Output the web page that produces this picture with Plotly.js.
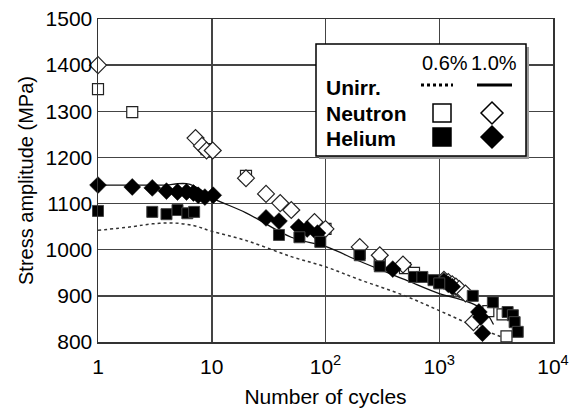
<!DOCTYPE html>
<html><head><meta charset="utf-8">
<script src="https://cdn.plot.ly/plotly-3.0.1.min.js"></script>
<style>html,body{margin:0;padding:0;background:#fff}#chart{width:571px;height:410px}</style>
</head><body><div id="chart"></div>
<script>
// Unirradiated 0.6% (dotted) and 1.0% (solid)
const unirr06N = [1, 2, 3, 4.5, 7, 10, 20, 50, 100, 200, 500, 1000, 2000, 3800];
const unirr06S = [1042, 1050, 1056, 1058, 1052, 1040, 1020, 985, 963, 935, 900, 868, 835, 808];
const unirr10N = [1, 2, 3, 4, 5, 6, 7, 8, 10, 20, 50, 100, 200, 500, 1000, 1500, 2000, 2500, 3000];
const unirr10S = [1140, 1140, 1140, 1140, 1143, 1143, 1138, 1130, 1113, 1080, 1027, 1007, 975, 935, 905, 893, 882, 868, 838];
// Neutron irradiated
const neutron06N = [1, 2, 9, 20, 100, 200, 300, 500, 600, 1000, 1500, 2700, 3600, 3900];
const neutron06S = [1348, 1298, 1218, 1160, 1045, 993, 970, 960, 950, 930, 910, 867, 860, 812];
const neutron10N = [1, 7.2, 8.2, 9, 10.2, 20, 30, 40, 50, 80, 100, 200, 300, 480, 1100, 1200, 1300, 1400, 1500, 1700, 2000];
const neutron10S = [1400, 1242, 1225, 1215, 1215, 1155, 1121, 1101, 1086, 1060, 1045, 1006, 988, 968, 935, 930, 925, 920, 915, 905, 843];
// Helium implanted
const helium06N = [1, 3, 4, 5, 6.1, 7, 39, 59, 90, 200, 300, 600, 710, 890, 1000, 1970, 2960, 3990, 4440, 4600, 4900];
const helium06S = [1084, 1082, 1077, 1086, 1079, 1082, 1032, 1027, 1017, 988, 964, 941, 941, 934, 927, 900, 886, 865, 858, 843, 822];
const helium10N = [1, 2, 3, 4, 5, 6, 6.9, 7.6, 8.7, 10.3, 30, 39, 58, 69, 85, 390, 1100, 1200, 1300, 2230, 2320, 2400];
const helium10S = [1140, 1136, 1134, 1127, 1125, 1125, 1123, 1118, 1114, 1118, 1069, 1062, 1049, 1045, 1036, 958, 932, 925, 920, 865, 854, 819];

const xTickVals = [1, 10, 100, 1000, 10000];
const xTickText = ['1', '10', '10<sup>2</sup>', '10<sup>3</sup>', '10<sup>4</sup>'];
const yTickVals = [800, 900, 1000, 1100, 1200, 1300, 1400, 1500];

const FONT = 'Liberation Sans, Arial, sans-serif';
const traces = [
  {x: unirr06N, y: unirr06S, mode: 'lines', line: {color: '#333', width: 1.5, dash: 'dot', shape: 'spline'}, cliponaxis: false},
  {x: unirr10N, y: unirr10S, mode: 'lines', line: {color: '#111', width: 1.3, shape: 'spline'}, cliponaxis: false},
  {x: neutron06N, y: neutron06S, mode: 'markers', marker: {symbol: 'square', size: 11, color: '#fff', line: {color: '#222', width: 1.2}}, cliponaxis: false},
  {x: neutron10N, y: neutron10S, mode: 'markers', marker: {symbol: 'diamond', size: 13, color: '#fff', line: {color: '#222', width: 1.2}}, cliponaxis: false},
  {x: helium10N, y: helium10S, mode: 'markers', marker: {symbol: 'diamond', size: 13, color: '#000', line: {color: '#000', width: 0.5}}, cliponaxis: false},
  {x: helium06N, y: helium06S, mode: 'markers', marker: {symbol: 'square', size: 11, color: '#000', line: {color: '#444', width: 1}}, cliponaxis: false}
];

// legend decoration helpers (paper coordinates)
const W = 455, H = 323, L = 98, T = 19;
const px = v => (v - L) / W;
const py = v => (T + H - v) / H;
function sq(cx, cy, h, fill) {
  return {type: 'rect', xref: 'paper', yref: 'paper', x0: px(cx - h), x1: px(cx + h), y0: py(cy + h), y1: py(cy - h),
    fillcolor: fill, line: {color: '#000', width: 1.5}};
}
function dia(cx, cy, h, fill) {
  return {type: 'path', xref: 'paper', yref: 'paper',
    path: `M ${px(cx)} ${py(cy - h)} L ${px(cx + h)} ${py(cy)} L ${px(cx)} ${py(cy + h)} L ${px(cx - h)} ${py(cy)} Z`,
    fillcolor: fill, line: {color: '#000', width: 1.5}};
}
const shapes = [
  {type: 'rect', xref: 'paper', yref: 'paper', x0: px(319), x1: px(529), y0: py(159), y1: py(47), fillcolor: '#999', line: {width: 0}},
  {type: 'rect', xref: 'paper', yref: 'paper', x0: px(316), x1: px(526), y0: py(156), y1: py(44), fillcolor: '#fff', line: {color: '#000', width: 1.5}},
  {type: 'line', xref: 'paper', yref: 'paper', x0: px(421), x1: px(453), y0: py(85), y1: py(85), line: {color: '#000', width: 3, dash: 'dot'}},
  {type: 'line', xref: 'paper', yref: 'paper', x0: px(477), x1: px(512), y0: py(85), y1: py(85), line: {color: '#000', width: 3}},
  sq(442, 113, 9, '#fff'), dia(492, 113, 11, '#fff'),
  sq(442, 137, 9, '#000'), dia(492, 137, 11, '#000')
];
const ann = (text, x, y, anchor, bold, size) => ({text: bold ? '<b>' + text + '</b>' : text, xref: 'paper', yref: 'paper',
  x: px(x), y: py(y), xanchor: anchor, yanchor: 'middle', showarrow: false, font: {family: FONT, size: size, color: '#000'}});
const annotations = [
  ann('0.6%', 445, 63, 'center', false, 20), ann('1.0%', 494, 63, 'center', false, 20),
  ann('Unirr.', 324, 87, 'left', true, 21), ann('Neutron', 324, 113, 'left', true, 21), ann('Helium', 324, 138, 'left', true, 21)
];

const layout = {
  width: 571, height: 410, showlegend: false,
  margin: {l: 98, r: 18, t: 19, b: 68},
  paper_bgcolor: '#fff', plot_bgcolor: '#fff',
  font: {family: FONT, color: '#000', size: 20},
  xaxis: {type: 'log', range: [0, 4], tickvals: xTickVals, ticktext: xTickText, showgrid: true, gridcolor: '#444', gridwidth: 1.5,
    showline: true, linecolor: '#333', linewidth: 1.5, mirror: true, ticks: '', zeroline: false, ticklabelstandoff: 5,
    tickfont: {size: 21}, title: {text: 'Number of cycles', font: {size: 21}, standoff: 12}},
  yaxis: {range: [800, 1500], tickvals: yTickVals, showgrid: true, gridcolor: '#444', gridwidth: 1.5,
    showline: true, linecolor: '#333', linewidth: 1.5, mirror: true, ticks: '', zeroline: false,
    tickfont: {size: 21}, title: {text: 'Stress amplitude (MPa)', font: {size: 20}, standoff: 6}},
  shapes: shapes, annotations: annotations
};
Plotly.newPlot('chart', traces, layout, {displayModeBar: false, staticPlot: true});
</script></body></html>
